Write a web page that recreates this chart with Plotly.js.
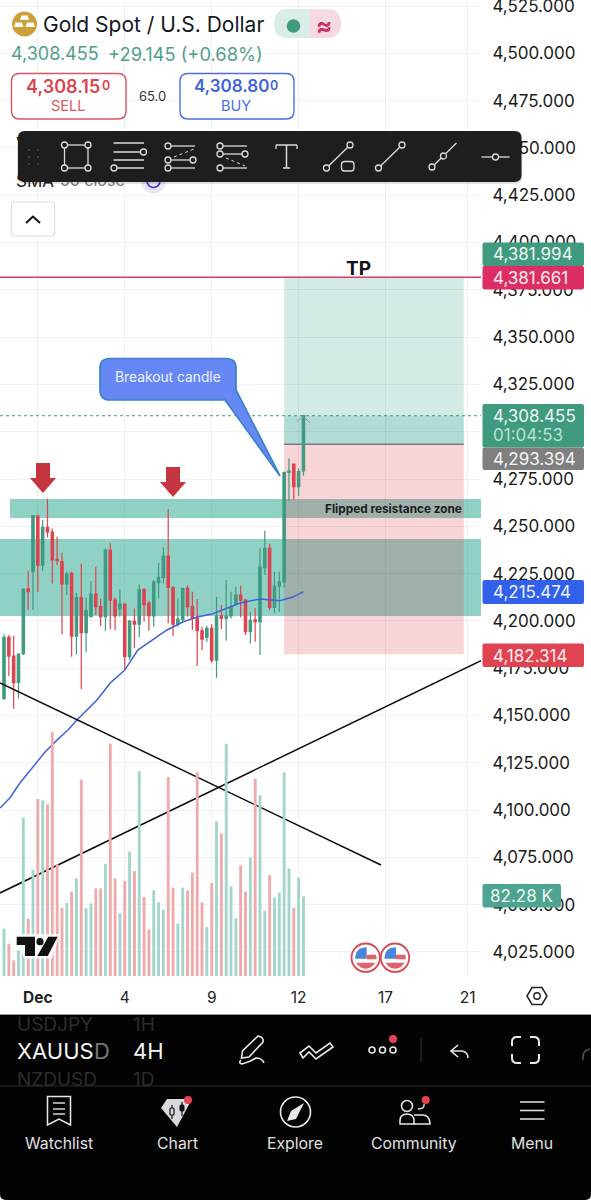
<!DOCTYPE html>
<html><head><meta charset="utf-8">
<script src="https://cdn.plot.ly/plotly-3.0.1.min.js"></script>
<style>html,body{margin:0;padding:0;background:#fff}#chart{width:591px;height:1200px}</style>
</head><body><div id="chart"></div>
<script>
// ---- data ----
const highs  = [4192.9,4192.5,4192.2,4182.8,4217.2,4226.5,4256.0,4256.1,4253.3,4264.6,4248.9,4244.5,4236.0,4226.0,4226.0,4214.9,4230.4,4212.3,4221.1,4228.6,4211.9,4238.3,4241.3,4212.4,4216.8,4209.3,4200.5,4206.6,4219.3,4217.2,4210.5,4221.6,4230.8,4238.9,4259.1,4218.4,4211.9,4217.2,4218.8,4215.4,4211.6,4196.9,4197.3,4198.3,4212.8,4208.4,4221.6,4215.4,4218.1,4218.6,4211.4,4204.9,4207.0,4238.3,4247.7,4240.6,4226.0,4226.0,4278.9,4285.9,4282.9,4280.6,4308.455];
const opens  = [4159.0,4191.3,4181.4,4167.5,4182.7,4217.0,4226.0,4255.4,4229.5,4249.4,4247.0,4232.5,4231.3,4219.5,4225.1,4192.0,4212.3,4193.8,4202.2,4214.2,4207.5,4202.2,4237.4,4211.0,4206.3,4208.9,4181.1,4199.7,4198.3,4216.5,4209.4,4202.7,4220.2,4223.0,4234.3,4217.5,4198.3,4200.8,4217.2,4207.5,4201.3,4194.8,4191.3,4196.0,4179.3,4202.7,4201.3,4202.7,4208.9,4213.7,4211.0,4194.3,4200.5,4199.6,4228.1,4238.3,4207.2,4218.4,4220.7,4278.5,4282.9,4270.9,4279.31];
const closes = [4191.3,4181.4,4167.3,4182.5,4216.8,4215.4,4255.6,4229.5,4249.4,4247.1,4232.2,4231.8,4219.5,4224.8,4192.0,4212.3,4193.8,4205.4,4214.2,4207.5,4202.2,4237.4,4211.0,4202.7,4208.9,4181.1,4199.9,4198.3,4216.5,4208.6,4202.7,4220.5,4223.0,4234.3,4217.7,4198.3,4201.0,4217.2,4207.5,4201.3,4194.8,4190.4,4196.0,4179.3,4202.7,4201.3,4202.7,4207.5,4213.7,4211.0,4194.3,4200.3,4199.6,4228.5,4238.3,4207.2,4218.4,4220.7,4278.5,4279.2,4270.9,4278.9,4308.455];
const lows   = [4158.2,4170.9,4153.6,4159.0,4182.0,4205.7,4205.7,4215.4,4226.5,4244.1,4219.8,4229.5,4193.1,4213.7,4181.1,4182.3,4164.0,4183.4,4201.9,4203.1,4197.3,4194.6,4195.5,4195.2,4202.2,4174.4,4179.3,4185.5,4191.3,4199.6,4194.8,4196.9,4211.9,4219.8,4198.7,4192.0,4196.9,4199.0,4202.2,4195.2,4176.1,4184.6,4189.0,4177.9,4170.0,4195.7,4189.5,4201.3,4208.9,4201.9,4192.5,4188.1,4189.0,4182.0,4224.2,4205.7,4204.3,4204.9,4217.7,4263.4,4264.2,4266.0,4276.7];
const volumesK = [48.9,33.4,16.2,26.5,163.7,59.3,109.9,183.0,181.6,177.5,251.9,115.4,70.6,75.5,87.2,101.0,203.0,70.0,75.1,90.6,90.6,116.1,240.2,101.0,64.8,98.2,128.5,108.5,211.6,81.7,48.2,88.6,76.2,68.6,205.7,91.3,54.1,91.3,88.6,106.8,210.6,76.2,50.7,96.1,159.9,147.5,240.2,92.7,59.6,114.4,87.2,122.7,204.0,186.8,67.5,104.4,81.0,86.2,210.6,111.3,70.6,101.7,82.28];
const candleIndex = opens.map((_, i) => i);
const smaIndex = [-0.83,1.2,3.3,6,8.5,11,13.25,15.1,19.25,22,25,27.7,32.3,33.75,37,40,43,46.2,48.9,53,57.1,59.8,62];
const smaValues = [4101.1,4106.4,4114.3,4122.9,4130.7,4137.1,4142.3,4147.6,4158.2,4167.2,4174.0,4184.6,4192.5,4195.2,4199.4,4202.1,4203.6,4206.8,4209.5,4211.6,4210.7,4212.6,4215.474];
const trendDownX = [-0.83,78.05], trendDownY = [4167.2,4071.0];
const trendUpX = [-0.83,98.76], trendUpY = [4056.2,4179.0];
const tickPositions = [7,25,43,61,79,96];
const tickLabels = ['<b>Dec</b>','4','9','12','17','21'];
const tpPrice = 4381.661, entryPrice = 4293.394, stopPrice = 4182.314, lastPrice = 4308.455;
const flippedZone = [4254.4,4264.4], lowerZone = [4202.6,4243.3];
const positionSpan = [58,95.2];
const xMin = -0.83, xMax = 98.76;

// ---- pixel helpers for the app chrome around the chart ----
const PW = 481, PH = 976;
const X = v => (+v)/PW, Y = v => 1-(+v)/PH;
const px = d => d.replace(/(-?[\d.]+)[ ,](-?[\d.]+)/g, (m,a,b) => X(a).toFixed(5)+' '+Y(b).toFixed(5));
const rr = (a,b,c,d,r) => `M${a+r} ${b} L${c-r} ${b} Q${c} ${b} ${c} ${b+r} L${c} ${d-r} Q${c} ${d} ${c-r} ${d} L${a+r} ${d} Q${a} ${d} ${a} ${d-r} L${a} ${b+r} Q${a} ${b} ${a+r} ${b} Z`;
const shapes = [];
const annos = [];
function path(d, fill, stroke, w){ shapes.push({type:'path',xref:'paper',yref:'paper',layer:'above',path:px(d),fillcolor:fill||'rgba(0,0,0,0)',line:{color:stroke||'rgba(0,0,0,0)',width:stroke?(w||1.3):0}}); }
function ln(x0,y0,x1,y1,c,w,dash){ shapes.push({type:'line',xref:'paper',yref:'paper',layer:'above',x0:X(x0),x1:X(x1),y0:Y(y0),y1:Y(y1),line:{color:c,width:w||1.3,dash:dash||'solid'}}); }
function circ(cx,cy,r,fill,stroke,w){ shapes.push({type:'circle',xref:'paper',yref:'paper',layer:'above',x0:X(cx-r),x1:X(cx+r),y0:Y(cy+r),y1:Y(cy-r),fillcolor:fill||'rgba(0,0,0,0)',line:{color:stroke||'rgba(0,0,0,0)',width:stroke?(w||1.3):0}}); }
function txt(t,x,y,size,color,anchor,weight){ annos.push({xref:'paper',yref:'paper',x:X(x),y:Y(y),text:t,showarrow:false,xanchor:anchor||'left',yanchor:'middle',borderpad:0,borderwidth:0,font:{family:'Inter, Roboto, sans-serif',size:size,color:color,weight:weight||400}}); }
function underlay(t,x,y,size,color){ shapes.push({type:'rect',xref:'paper',yref:'paper',layer:'above',x0:X(x),x1:X(x+200),y0:Y(y+10),y1:Y(y-10),line:{width:0},fillcolor:'rgba(0,0,0,0)',label:{text:t,textposition:'middle left',padding:0,font:{family:'Inter, Roboto, sans-serif',size:size,color:color}}}); }

// ---- drawings anchored to the data ----
function dRect(x0,x1,y0,y1,fill){ shapes.push({type:'rect',xref:'x',yref:'y',layer:'below',x0,x1,y0,y1,fillcolor:fill,line:{width:0}}); }
dRect(1.24,xMax,flippedZone[0],flippedZone[1],'rgba(8,153,129,0.45)');
dRect(xMin,xMax,lowerZone[0],lowerZone[1],'rgba(8,153,129,0.45)');
dRect(positionSpan[0],positionSpan[1],entryPrice,tpPrice,'rgba(15,140,120,0.18)');
dRect(positionSpan[0],positionSpan[1],entryPrice,lastPrice,'rgba(8,153,129,0.17)');
dRect(positionSpan[0],positionSpan[1],stopPrice,entryPrice,'rgba(215,50,65,0.21)');
shapes.push({type:'line',xref:'x',yref:'y',layer:'below',x0:positionSpan[0],x1:positionSpan[1],y0:entryPrice,y1:entryPrice,line:{color:'#7a7a7a',width:1.4}});
shapes.push({type:'line',xref:'x',yref:'y',layer:'below',x0:xMin,x1:xMax,y0:lastPrice,y1:lastPrice,line:{color:'#3e9a80',width:1,dash:'dot'}});
shapes.push({type:'line',xref:'x',yref:'y',layer:'above',x0:xMin,x1:xMax,y0:tpPrice,y1:tpPrice,line:{color:'#d8386a',width:1.5}});

// ---- header ----
circ(24.5,24,12.5,'#cf9f37');
path('M21.5 15.5 L27.5 15.5 L29 20 L20 20 Z','#fff');
path('M15.5 22.5 L22 22.5 L23.5 27 L14 27 Z','#fff');
path('M27 22.5 L33.5 22.5 L35 27 L25.5 27 Z','#fff');
txt('Gold Spot / U.S. Dollar',43,24.5,21,'#131722');
path('M288 9 L310 9 L310 38 L288 38 Q274 38 274 24 Q274 9 288 9 Z','#d9ece8');
path('M310 9 L327 9 Q341 9 341 24 Q341 38 327 38 L310 38 Z','#f6d9e3');
circ(293.5,26,6.8,'#3f9a80');
txt('≈',324,25,24,'#c8305f','center',700);
txt('4,308.455',11,54,18,'#4f9f8c');
txt('+29.145 (+0.68%)',108,54,18.3,'#4f9f8c');
path(rr(11.5,73.5,126,119,8),'#fff','#dc5660',1.4);
txt('4,308.15',26,86.5,18,'#dc4450','left',600);
txt('0',102,85,12.5,'#dc4450','left',600);
txt('SELL',68,106,14.5,'#dc5660','center');
txt('65.0',152,96,13,'#333','center');
path(rr(180,73.5,294,119,8),'#fff','#4a6fe0',1.4);
txt('4,308.80',194,86.5,17,'#3f63d8','left',600);
txt('0',270,85,12.5,'#3f63d8','left',600);
txt('BUY',236,106,14.5,'#4a6fe0','center');
// legend rows partly hidden by the drawing toolbar
underlay('V',13,143,19,'#222');
underlay('SMA',13,180,17,'#222');
underlay('50 close',57,180,16,'#777');
circ(153.5,181,12.5,'#e9e5fb');
circ(153.5,181,6.5,'rgba(0,0,0,0)','#4a2fd0',1.6);
path(rr(11.5,202,54.5,236,3),'#fff','#dddddd',1.2);
path('M26 223 L33 216.5 L40 223','rgba(0,0,0,0)','#111',2);

// ---- drawing toolbar ----
path(rr(17,131,522.5,184,8),'rgba(0,0,0,0.12)');
path(rr(18,131,521.5,182,7),'#1e1e1e');
const ic = '#dcdcdc', tb = '#1e1e1e';
[29,38].forEach(x => [150,157,164].forEach(y => circ(x,y,1.1,'#4a4a4a')));
ln(64.5,145,88,145,ic); ln(88,145,88,168,ic); ln(88,168,64.5,168,ic); ln(64.5,168,64.5,145,ic);
[[64.5,145],[88,145],[64.5,168],[88,168]].forEach(c => circ(c[0],c[1],3,tb,ic));
ln(113.5,143,144,143,ic,1.5); ln(113.5,152,140,152,ic,1.5); circ(143.5,152,3,tb,ic); ln(113.5,160,144,160,ic,1.5); ln(114,168,144,168,ic,1.5); circ(114,168,3,tb,ic);
ln(168,146,195,146,ic); circ(168,146,3,tb,ic); ln(174,157,194,149,ic,1,'dot');
ln(168,160,193,160,ic); circ(168,160,3,tb,ic); circ(193,160,3,tb,ic); ln(168,168,195,168,ic); circ(168,168,3,tb,ic);
ln(220,146,247,146,ic); circ(220,146,3,tb,ic); ln(220,154,245,154,ic); circ(220,154,3,tb,ic); circ(245,154,3,tb,ic);
ln(226,158,245,166,ic,1,'dot'); ln(220,168,247,168,ic); circ(220,168,3,tb,ic);
ln(276,145,297,145,ic,1.5); ln(276,145,276,149,ic); ln(297,145,297,149,ic); ln(286.5,145,286.5,168,ic,1.5); ln(283,168,290,168,ic,1.5);
ln(326.5,168,350,145,ic); circ(350,145,3,tb,ic); circ(326.5,168,3,tb,ic); path(rr(341.5,161.5,354,171,3),tb,ic,1.3);
ln(378.5,168,402,145,ic); circ(402,145,3,tb,ic); circ(378.5,168,3,tb,ic);
ln(432,167,456.5,143,ic); circ(432,167,3,tb,ic); circ(443.5,156,3,tb,ic);
ln(481.5,157,509.5,157,ic); circ(495.5,157,3,tb,ic);

// ---- arrows, callout, labels on the chart ----
path('M36 463 L50 463 L50 478 L56 478 L43 493 L30 478 L36 478 Z','#c4353f');
path('M166 467 L180 467 L180 482 L186 482 L173 497 L160 482 L166 482 Z','#c4353f');
path('M110 358.5 L226 358.5 Q236 358.5 236 368 L236 390 L280 476 L225 400 L110 400 Q100 400 100 390 L100 368 Q100 358.5 110 358.5 Z','#6688f5','#3a82c8',1.7);
txt('Breakout candle',167.5,377,13.8,'#eef1ff','center');
txt('Flipped resistance zone',393,508.5,11.8,'#1d1d1d','center',700);
txt('TP',358,268,19,'#111','center',700);
path('M296.7 421.7 L303.3 416.7 L310 422.7','rgba(0,0,0,0)','#8f9a97',1);

// ---- price badges ----
function badge(y0,y1,x1,c){ path(rr(482.5,y0,x1,y1,2),c); }
badge(242.5,266,584,'#3f9a80'); txt('4,381.994',493,254,17,'#eef7f4');
badge(266,289.5,584,'#dc2e62'); txt('4,381.661',493,277.5,17,'#fdeef2');
badge(404,447.5,584,'#3f9a80'); txt('4,308.455',493,416,17,'#eef7f4'); txt('01:04:53',493,435,17,'#b9e0d6');
badge(447.5,470,584,'#7f7f7f'); txt('4,293.394',493,458.5,17,'#f5f5f5');
badge(580,604,584,'#3160ea'); txt('4,215.474',493,591.5,17,'#eef2ff');
badge(643.5,667,584,'#df4250'); txt('4,182.314',493,655.5,17,'#fff0f0');
badge(884,907.5,561,'#4da490'); txt('82.28 K',521.5,896,17,'#eef7f4','center');

// ---- watermark, events, settings ----
path('M15.5 934 L60 934 L52 958.5 L24 958.5 Z','rgba(255,255,255,0.85)');
path('M16.7 936.7 L35 936.7 L35 956 L25 956 L25 945 L16.7 945 Z','#111');
circ(40,941.7,3.6,'#111');
path('M48.3 936.7 L57.7 936.7 L47.7 956 L37.3 956 Z','#111');
[365.7,395].forEach(cx => {
  const cy = 957.7;
  circ(cx,cy,14.2,'#fff','#d9474f',1.8);
  path(`M${cx+1} ${cy-10.5} L${cx+1} ${cy+1} L${cx-10.5} ${cy+1} Q${cx-10.5} ${cy-10.5} ${cx+1} ${cy-10.5} Z`,'#4a86dc');
  path(`M${cx+1} ${cy-3} L${cx+10.5} ${cy-3} L${cx+10.8} ${cy+1.5} L${cx+1} ${cy+1.5} Z`,'#e2626a');
  path(`M${cx-9.5} ${cy+5} L${cx+9.5} ${cy+5} Q${cx+6} ${cy+10.8} ${cx} ${cy+11} Q${cx-6} ${cy+10.8} ${cx-9.5} ${cy+5} Z`,'#e2626a');
});
path('M527 996 L532 987.5 L542 987.5 L547 996 L542 1004.5 L532 1004.5 Z','rgba(0,0,0,0)','#222',1.5);
circ(537,996,3.2,'rgba(0,0,0,0)','#222',1.4);

// ---- bottom app bar ----
path('M0 1014 L591 1014 L591 1194 Q591 1200 585 1200 L6 1200 Q0 1200 0 1194 Z','#030303');
ln(0,1014.5,591,1014.5,'#9a9a9a',1);
txt('USDJPY',17,1024,19,'#2c2c2c'); txt('1H',133,1024,19,'#2c2c2c');
txt('XAUUS',17,1051,22,'#f4f4f4'); txt('D',93.5,1051,22,'#777'); txt('4H',133,1051,22,'#f4f4f4');
txt('NZDUSD',17,1079,19,'#2c2c2c'); txt('1D',133,1079,19,'#2c2c2c');
ln(0,1086,591,1086,'#2a2a2a',1);
const w = '#e9e9e9';
path('M258 1036 Q264 1037 263 1042 L249 1057 L241.5 1058 L242.5 1051 Z','rgba(0,0,0,0)',w,1.6);
path('M241 1060 Q238 1063 242 1064 Q250 1062 256 1058 Q262 1058 264 1063','rgba(0,0,0,0)',w,1.6);
path('M300 1053 L309 1046 L316 1053 L330 1043 L333 1047 L316 1059 L309 1052 L303 1058 Z','rgba(0,0,0,0)',w,1.6);
[372,382.5,393].forEach(x => circ(x,1050,3,'rgba(0,0,0,0)',w,1.6));
circ(393,1039,4,'#e5434f');
ln(421,1037,421,1063,'#333',1);
path('M458 1045 L451 1051 L458 1057','rgba(0,0,0,0)',w,1.6);
path('M451 1051 L462 1051 Q468 1052 468 1058','rgba(0,0,0,0)',w,1.6);
path('M512 1046 L512 1042 Q512 1037 517 1037 L521 1037','rgba(0,0,0,0)',w,2);
path('M530 1037 L534 1037 Q539 1037 539 1042 L539 1046','rgba(0,0,0,0)',w,2);
path('M512 1054 L512 1058 Q512 1063 517 1063 L521 1063','rgba(0,0,0,0)',w,2);
path('M530 1063 L534 1063 Q539 1063 539 1058 L539 1054','rgba(0,0,0,0)',w,2);
path('M583 1060 L583 1057 Q583 1050 590 1049','rgba(0,0,0,0)','#555',1.6);
// nav icons
path('M47.5 1096.5 L70.5 1096.5 L70.5 1125 L59 1119 L47.5 1125 Z','rgba(0,0,0,0)',w,1.5);
[1103,1109,1114].forEach(y => ln(53,y,65,y,w,1.4));
path('M167 1099 L192 1099 L177 1127 L161 1108 Z','#d8dae0');
ln(172,1105,172,1119,'#111',1.2); path(rr(170,1108,174,1115,1),'#d8dae0','#111',1.2);
ln(182,1102,182,1116,'#111',1.2); path(rr(180,1105,184,1111,1),'#111','#111',1);
circ(188,1100,4,'#e5434f');
circ(295.5,1112,15,'rgba(0,0,0,0)',w,1.6);
path('M304 1103 L296 1119 L287 1121 L291 1111 Z',w);
circ(407,1106,5.5,'rgba(0,0,0,0)',w,1.5);
path('M400 1124 L400 1121 Q400 1114 407 1114 Q414 1114 414 1121 L414 1124 Z','rgba(0,0,0,0)',w,1.5);
path('M418 1109 Q425 1109 424 1104','rgba(0,0,0,0)',w,1.5);
path('M414 1115 L422 1115 Q430 1115 430 1124 L414 1124','rgba(0,0,0,0)',w,1.5);
circ(425.7,1100,4,'#e5434f');
[1102,1110.5,1119].forEach(y => ln(520,y,544.5,y,w,1.5));
txt('Watchlist',58.5,1143,15.8,'#e0e0e0','center');
txt('Chart',177,1143,15.8,'#e0e0e0','center');
txt('Explore',295,1143,15.8,'#e0e0e0','center');
txt('Community',413.5,1143,15.8,'#e0e0e0','center');
txt('Menu',532,1143,15.8,'#e0e0e0','center');

// ---- traces ----
const up = '#3f9a80', down = '#dd434e';
const volumeColors = candleIndex.map(i => closes[i] >= opens[i] ? '#a4d5cd' : '#eeabab');
const traces = [
  {type:'bar',x:candleIndex,y:volumesK,yaxis:'y2',width:0.6,marker:{color:volumeColors,line:{width:0}},hoverinfo:'skip'},
  {type:'candlestick',x:candleIndex,open:opens,high:highs,low:lows,close:closes,whiskerwidth:0,
   increasing:{line:{color:up,width:1.2},fillcolor:up},decreasing:{line:{color:down,width:1.2},fillcolor:down},hoverinfo:'skip'},
  {type:'scatter',mode:'lines',x:smaIndex,y:smaValues,line:{color:'#3f62d8',width:1.5},hoverinfo:'skip'},
  {type:'scatter',mode:'lines',x:trendDownX,y:trendDownY,line:{color:'#0b0b0b',width:1.5},hoverinfo:'skip'},
  {type:'scatter',mode:'lines',x:trendUpX,y:trendUpY,line:{color:'#0b0b0b',width:1.5},hoverinfo:'skip'}
];
const gridC = 'rgba(50,60,80,0.07)';
const layout = {
  width:591,height:1200,margin:{l:0,r:110,t:0,b:224,pad:0},paper_bgcolor:'#fff',plot_bgcolor:'#fff',showlegend:false,
  font:{family:'Inter, Roboto, sans-serif',color:'#1c1c1c'},
  xaxis:{range:[xMin,xMax],tickmode:'array',tickvals:tickPositions,ticktext:tickLabels,showgrid:true,gridcolor:gridC,gridwidth:1,zeroline:false,showline:false,
         ticks:'outside',ticklen:7,tickcolor:'rgba(0,0,0,0)',tickfont:{size:15.5,color:'#222'},rangeslider:{visible:false},fixedrange:true},
  yaxis:{range:[4012.3,4528.2],side:'right',tick0:4025,dtick:25,tickformat:',.3f',showgrid:true,gridcolor:gridC,gridwidth:1,zeroline:false,showline:false,
         ticks:'outside',ticklen:7,tickcolor:'rgba(0,0,0,0)',tickfont:{size:17,color:'#1a1a1a'},ticklabeloverflow:'allow',fixedrange:true},
  yaxis2:{range:[0,1009],overlaying:'y',side:'left',visible:false,fixedrange:true,showgrid:false},
  boxgap:0.3,boxgroupgap:0.3,bargap:0.4,
  shapes:shapes,annotations:annos
};
Plotly.newPlot('chart',traces,layout,{displayModeBar:false,staticPlot:true});
</script></body></html>
